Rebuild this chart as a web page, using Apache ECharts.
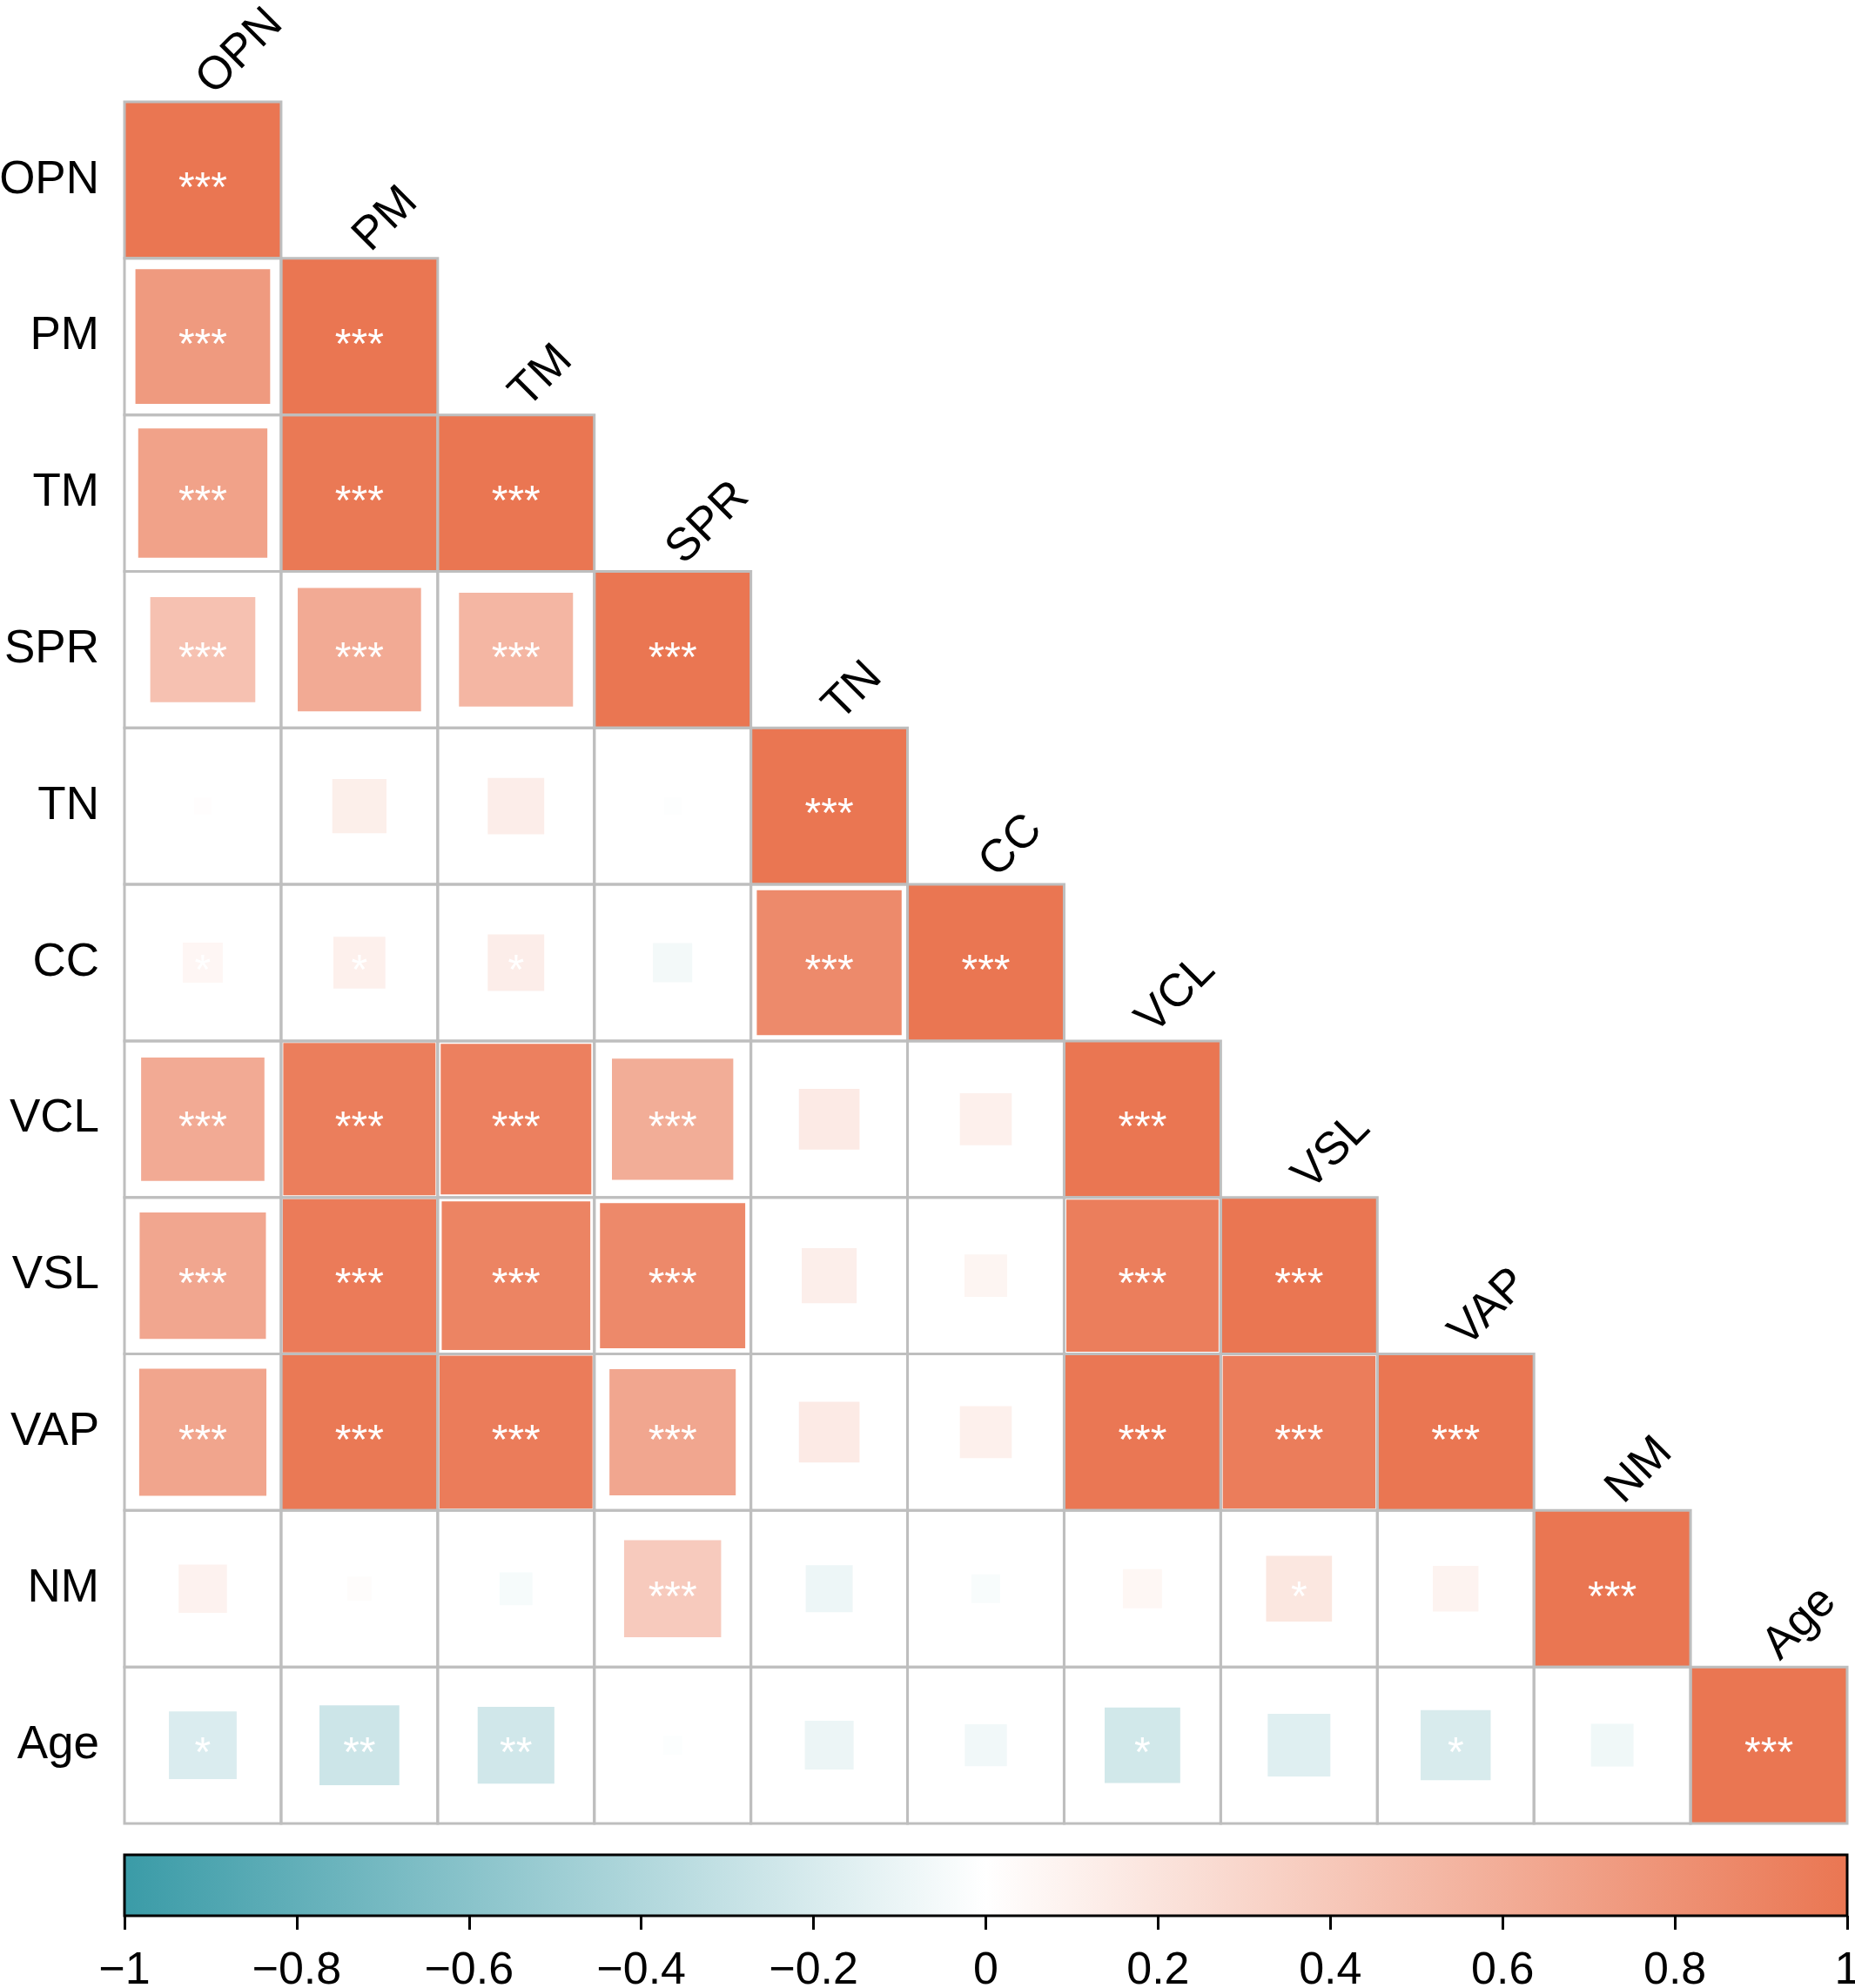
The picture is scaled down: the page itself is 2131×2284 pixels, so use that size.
<!DOCTYPE html>
<html>
<head>
<meta charset="utf-8">
<script src="https://cdn.jsdelivr.net/npm/echarts@6/dist/echarts.min.js"></script>
<style>
  html, body { margin: 0; padding: 0; background: #fff; }
  #chart { width: 2131px; height: 2284px; }
</style>
</head>
<body>
<div id="chart"></div>
<script>
// variables (rows top to bottom, columns left to right)
var vars = ['OPN', 'PM', 'TM', 'SPR', 'TN', 'CC', 'VCL', 'VSL', 'VAP', 'NM', 'Age'];

// lower triangle of the correlation matrix, one row per variable
var corrOPN = [1];
var corrPM = [0.74, 1];
var corrTM = [0.68, 0.98, 1];
var corrSPR = [0.45, 0.62, 0.53, 1];
var corrTN = [0.012, 0.12, 0.13, -0.012, 1];
var corrCC = [0.065, 0.11, 0.13, -0.063, 0.855, 1];
var corrVCL = [0.62, 0.945, 0.925, 0.6, 0.15, 0.11, 1];
var corrVSL = [0.65, 0.96, 0.9, 0.86, 0.123, 0.074, 0.945, 1];
var corrVAP = [0.66, 0.98, 0.955, 0.65, 0.15, 0.11, 0.99, 0.95, 1];
var corrNM = [0.095, 0.024, -0.044, 0.384, -0.09, -0.034, 0.062, 0.177, 0.085, 1];
var corrAge = [-0.187, -0.26, -0.24, -0.015, -0.097, -0.072, -0.233, -0.16, -0.2, -0.074, 1];

// significance marks
var sigOPN = ['***'];
var sigPM = ['***', '***'];
var sigTM = ['***', '***', '***'];
var sigSPR = ['***', '***', '***', '***'];
var sigTN = ['', '', '', '', '***'];
var sigCC = ['*', '*', '*', '', '***', '***'];
var sigVCL = ['***', '***', '***', '***', '', '', '***'];
var sigVSL = ['***', '***', '***', '***', '', '', '***', '***'];
var sigVAP = ['***', '***', '***', '***', '', '', '***', '***', '***'];
var sigNM = ['', '', '', '***', '', '', '', '*', '', '***'];
var sigAge = ['*', '**', '**', '', '', '', '*', '', '*', '', '***'];

// colour bar ticks
var barTicks = [-1, -0.8, -0.6, -0.4, -0.2, 0, 0.2, 0.4, 0.6, 0.8, 1];

var corrRows = [corrOPN, corrPM, corrTM, corrSPR, corrTN, corrCC, corrVCL, corrVSL, corrVAP, corrNM, corrAge];
var sigRows = [sigOPN, sigPM, sigTM, sigSPR, sigTN, sigCC, sigVCL, sigVSL, sigVAP, sigNM, sigAge];

var lowColor = '#3A9BA7';
var highColor = '#EA7652';
var gridColor = '#BEBEBE';
var font = 'Liberation Sans, Arial, Helvetica, sans-serif';

var cellData = [];
var cellSig = [];
corrRows.forEach(function (row, i) {
  row.forEach(function (v, j) {
    cellData.push([j, i, v]);
    cellSig.push(sigRows[i][j]);
  });
});

var myChart = echarts.init(document.getElementById('chart'));

var option = {
  backgroundColor: '#fff',
  animation: false,
  grid: [
    { left: 143, top: 117, width: 1979, height: 1978, outerBoundsMode: 'none' },
    { left: 143, top: 2131, width: 1979, height: 70, outerBoundsMode: 'none' }
  ],
  xAxis: [{
    gridIndex: 0,
    type: 'category',
    data: vars,
    show: false
  }, {
    gridIndex: 1,
    type: 'value',
    min: barTicks[0],
    max: barTicks[barTicks.length - 1],
    interval: 0.2,
    axisLine: { show: false },
    axisTick: { show: true, length: 16, lineStyle: { color: '#000', width: 3 } },
    splitLine: { show: false },
    axisLabel: {
      margin: 38,
      fontSize: 52,
      color: '#000',
      fontFamily: font,
      formatter: function (v) {
        var a = Math.abs(v);
        var s = Math.abs(a - Math.round(a)) < 1e-9 ? String(Math.round(a)) : a.toFixed(1);
        return (v < -1e-9 ? '\u2212' : '') + s;
      }
    }
  }],
  yAxis: [{
    gridIndex: 0,
    type: 'category',
    data: vars,
    inverse: true,
    axisLine: { show: false },
    axisTick: { show: false },
    splitLine: { show: false },
    axisLabel: { margin: 29, fontSize: 53, color: '#000', fontFamily: font }
  }, {
    gridIndex: 1,
    type: 'value',
    min: 0,
    max: 1,
    show: false
  }],
  visualMap: {
    show: false,
    type: 'continuous',
    min: -1,
    max: 1,
    dimension: 2,
    seriesIndex: 0,
    inRange: { color: [lowColor, '#FFFFFF', highColor] }
  },
  series: [{
    // coloured squares, side proportional to sqrt(|r|)
    type: 'custom',
    xAxisIndex: 0,
    yAxisIndex: 0,
    z: 2,
    data: cellData,
    renderItem: function (params, api) {
      var c = api.coord([api.value(0), api.value(1)]);
      var size = api.size([1, 1]);
      var side = size[0] * Math.sqrt(Math.abs(api.value(2)));
      return {
        type: 'group',
        children: [{
          type: 'rect',
          shape: { x: c[0] - side / 2, y: c[1] - side / 2, width: side, height: side },
          style: { fill: api.visual('color') }
        }, {
          type: 'text',
          x: c[0],
          y: c[1] + 11,
          style: {
            text: cellSig[params.dataIndex],
            fill: '#fff',
            fontSize: 48,
            fontFamily: font,
            align: 'center',
            verticalAlign: 'middle'
          }
        }]
      };
    }
  }, {
    // cell borders and the diagonal labels
    type: 'custom',
    xAxisIndex: 0,
    yAxisIndex: 0,
    z: 3,
    silent: true,
    data: cellData,
    renderItem: function (params, api) {
      var c = api.coord([api.value(0), api.value(1)]);
      var size = api.size([1, 1]);
      var children = [{
        type: 'rect',
        shape: { x: c[0] - size[0] / 2, y: c[1] - size[1] / 2, width: size[0], height: size[1] },
        style: { fill: null, stroke: gridColor, lineWidth: 3 }
      }];
      if (api.value(0) === api.value(1)) {
        children.push({
          type: 'text',
          x: c[0] + 21,
          y: c[1] - size[1] / 2 + 2,
          rotation: Math.PI / 4,
          style: {
            text: vars[api.value(0)],
            fill: '#000',
            fontSize: 53,
            fontFamily: font,
            align: 'left',
            verticalAlign: 'bottom'
          }
        });
      }
      return { type: 'group', children: children };
    }
  }, {
    // colour bar
    type: 'custom',
    xAxisIndex: 1,
    yAxisIndex: 1,
    silent: true,
    data: [[barTicks[0], 0, barTicks[barTicks.length - 1], 1]],
    renderItem: function (params, api) {
      var p0 = api.coord([api.value(0), api.value(1)]);
      var p1 = api.coord([api.value(2), api.value(3)]);
      return {
        type: 'rect',
        shape: { x: p0[0], y: p1[1], width: p1[0] - p0[0], height: p0[1] - p1[1] },
        style: {
          fill: new echarts.graphic.LinearGradient(0, 0, 1, 0, [
            { offset: 0, color: lowColor },
            { offset: 0.5, color: '#FFFFFF' },
            { offset: 1, color: highColor }
          ]),
          stroke: '#000',
          lineWidth: 3
        }
      };
    }
  }]
};

myChart.setOption(option);
window.addEventListener('resize', function () {
  myChart.resize();
});
</script>
</body>
</html>
